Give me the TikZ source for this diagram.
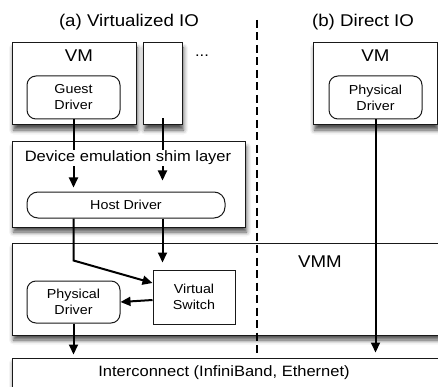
\documentclass[tikz,border=0pt]{standalone}
\usepackage{fontspec}
\setmainfont{Liberation Sans}[FakeStretch=1.1]
\usetikzlibrary{positioning,shadows.blur,arrows.meta}

\begin{document}
\begin{tikzpicture}[x=1pt,y=-1pt,
  plain/.style={draw=black!90,line width=1pt,fill=white,inner sep=0pt},
  box/.style={plain,blur shadow={shadow xshift=1.5pt,shadow yshift=-5pt,shadow blur radius=4.5pt,shadow opacity=70}},
  drv/.style={plain,rounded corners=9pt,align=center,font=\fontsize{13}{16}\selectfont},
  big/.style={font=\fontsize{17}{20}\selectfont},
  mid/.style={font=\fontsize{15}{18}\selectfont},
  arr/.style={line width=2pt,-{Triangle[length=10pt,width=9pt]}}]
\clip (0,0) rectangle (438,387);
% column titles
\node[big] (ttla) at (129,22) {(a) Virtualized IO};
\node[big] (ttlb) at (363,22) {(b) Direct IO};
% virtual machines
\node[box,minimum width=124pt,minimum height=82pt] (vma) at (74,84) {};
\node[big] (vmalbl) at (79,56) {VM};
\node[drv,minimum width=93pt,minimum height=43pt] (guest) at (73.5,97.5) {Guest\\Driver};
\node[box,minimum width=39pt,minimum height=82pt] (vmx) at (162.5,84) {};
\node[mid] (dots) at (202,56) {...};
\node[box,minimum width=124pt,minimum height=82pt] (vmb) at (375,84) {};
\node[big] (vmblbl) at (375.5,56) {VM};
\node[drv,minimum width=93pt,minimum height=43pt] (physb) at (375.5,97.5) {Physical\\Driver};
% shim layer
\node[box,minimum width=233pt,minimum height=85pt] (shim) at (128.5,184.5) {};
\node[drv,rounded corners=11pt,minimum width=198pt,minimum height=26pt] (host) at (126,205) {Host Driver};
% hypervisor
\node[box,minimum width=440pt,minimum height=92pt] (vmm) at (232,289) {};
\node[big] (vmmlbl) at (320,262) {VMM};
\node[plain,minimum width=82pt,minimum height=54pt,align=center,font=\fontsize{13}{16}\selectfont] (vsw) at (194,297) {Virtual\\Switch};
\node[drv,minimum width=93pt,minimum height=42pt] (physa) at (73.5,302) {Physical\\Driver};
% interconnect
\node[box,minimum width=440pt,minimum height=50pt] (inter) at (232,383) {};
\node[mid] (interlbl) at (224,373) {Interconnect (InfiniBand, Ethernet)};
% divider
\draw[line width=2pt,dash pattern=on 8pt off 4.5pt] (257,20) -- (257,355);
% data paths
\draw[arr,shorten >=4pt] (guest.south) -- (guest.south |- host.north);
\draw[arr,shorten >=4pt] ([yshift=7pt]vmx.south) -- ([yshift=7pt]vmx.south |- host.north);
\node[mid,fill=white,inner sep=1pt] (shimlbl) at (128,158) {Device emulation shim layer};
\draw[arr,shorten >=7pt] (vmx.south |- host.south) -- (vmx.south |- vsw.north);
\draw[arr] (guest.south |- host.south) -- ++(0,42) -- ([yshift=14pt]vsw.west);
\draw[arr] ([yshift=-3pt]vsw.west) -- (physa.east);
\draw[arr,shorten >=3pt] (physa.south) -- (physa.south |- inter.north);
\draw[arr,shorten >=5pt] (physb.south) -- (physb.south |- inter.north);
\end{tikzpicture}
\end{document}
